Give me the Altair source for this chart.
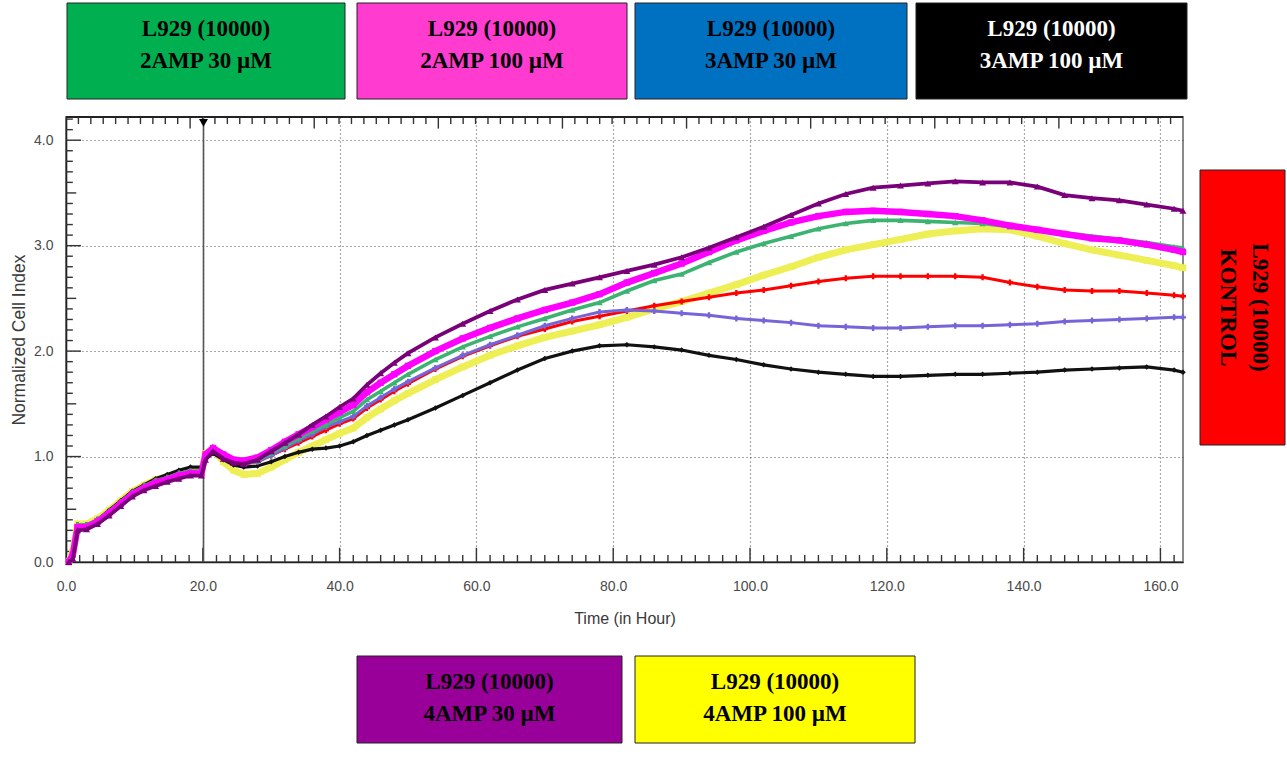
import altair as alt
import pandas as pd

# ---------------- data ----------------
HOURS = [0.4, 1.0, 1.7, 3.0, 4.6, 6.3, 8.0, 9.7, 11.4, 13.1, 14.8, 16.5, 18.2, 19.8,
         20.4, 21.5, 23.0, 24.5, 26.0,
         28, 30, 32, 34, 36, 38, 40, 42,
         44, 46, 48, 50,
         54, 58, 62, 66, 70, 74, 78, 82, 86, 90, 94, 98, 102, 106, 110, 114, 118,
         122, 126, 130, 134, 138, 142, 146, 150, 154, 158, 162, 163.3]

AMP2_30 = [0.0, 0.08, 0.35, 0.35, 0.40, 0.48, 0.57, 0.66, 0.72, 0.77, 0.80, 0.84, 0.86, 0.86,
           1.00, 1.05, 1.00, 0.96, 0.94,
           0.96, 1.03, 1.10, 1.17, 1.24, 1.30, 1.37, 1.43,
           1.54, 1.62, 1.70, 1.78,
           1.92, 2.04, 2.14, 2.23, 2.31, 2.39, 2.46, 2.57, 2.67, 2.73, 2.84, 2.94, 3.02, 3.09,
           3.16, 3.21, 3.24, 3.24, 3.23, 3.22, 3.21, 3.18, 3.15, 3.12, 3.09, 3.06, 3.03, 2.99, 2.98]

AMP2_100 = [0.0, 0.07, 0.33, 0.33, 0.38, 0.46, 0.55, 0.64, 0.70, 0.75, 0.78, 0.82, 0.84, 0.84,
            1.02, 1.08, 1.02, 0.97, 0.96,
            0.99, 1.06, 1.14, 1.21, 1.28, 1.35, 1.42, 1.49,
            1.61, 1.70, 1.78, 1.86,
            2.00, 2.12, 2.22, 2.31, 2.39, 2.46, 2.54, 2.65, 2.74, 2.83, 2.94, 3.05, 3.14, 3.22,
            3.28, 3.32, 3.33, 3.32, 3.30, 3.28, 3.24, 3.19, 3.15, 3.11, 3.07, 3.05, 3.01, 2.96, 2.94]

AMP3_30 = [0.0, 0.08, 0.35, 0.35, 0.40, 0.48, 0.57, 0.66, 0.72, 0.77, 0.80, 0.84, 0.86, 0.86,
           1.00, 1.05, 0.99, 0.95, 0.93,
           0.95, 1.01, 1.08, 1.15, 1.21, 1.28, 1.33, 1.38,
           1.48, 1.56, 1.64, 1.71,
           1.84, 1.96, 2.06, 2.15, 2.24, 2.31, 2.37, 2.39, 2.38, 2.36, 2.34, 2.31, 2.29, 2.27,
           2.24, 2.23, 2.22, 2.22, 2.23, 2.24, 2.24, 2.25, 2.26, 2.28, 2.29, 2.30, 2.31, 2.32, 2.32]

AMP3_100 = [0.0, 0.06, 0.34, 0.35, 0.40, 0.49, 0.58, 0.67, 0.73, 0.79, 0.83, 0.87, 0.90, 0.90,
            0.98, 1.03, 0.97, 0.92, 0.90,
            0.91, 0.95, 1.00, 1.04, 1.07, 1.08, 1.10, 1.14,
            1.20, 1.25, 1.30, 1.35,
            1.46, 1.58, 1.70, 1.82, 1.93, 2.00, 2.05, 2.06, 2.04, 2.01, 1.96, 1.92, 1.87, 1.83,
            1.80, 1.78, 1.76, 1.76, 1.77, 1.78, 1.78, 1.79, 1.80, 1.82, 1.83, 1.84, 1.85, 1.82, 1.80]

AMP4_30 = [0.0, 0.03, 0.30, 0.31, 0.36, 0.44, 0.53, 0.62, 0.68, 0.72, 0.76, 0.79, 0.82, 0.82,
           0.97, 1.05, 0.98, 0.94, 0.93,
           0.97, 1.05, 1.13, 1.21, 1.30, 1.38, 1.47, 1.55,
           1.68, 1.79, 1.89, 1.98,
           2.13, 2.26, 2.38, 2.49, 2.58, 2.64, 2.70, 2.76, 2.82, 2.89, 2.98, 3.08, 3.18, 3.29,
           3.40, 3.49, 3.55, 3.57, 3.59, 3.61, 3.60, 3.60, 3.56, 3.48, 3.45, 3.43, 3.39, 3.35, 3.33]

AMP4_100 = [0.0, 0.10, 0.36, 0.36, 0.41, 0.49, 0.58, 0.67, 0.73, 0.78, 0.81, 0.84, 0.86, 0.86,
            1.03, 1.07, 0.95, 0.87, 0.83,
            0.84, 0.90, 0.97, 1.04, 1.10, 1.16, 1.22, 1.27,
            1.37, 1.45, 1.53, 1.60,
            1.73, 1.85, 1.96, 2.05, 2.13, 2.19, 2.25, 2.32, 2.40, 2.47, 2.55, 2.63, 2.72, 2.80,
            2.89, 2.96, 3.01, 3.06, 3.11, 3.14, 3.16, 3.15, 3.09, 3.02, 2.96, 2.91, 2.86, 2.81, 2.79]

KONTROL = [0.0, 0.08, 0.35, 0.35, 0.40, 0.48, 0.57, 0.66, 0.72, 0.77, 0.80, 0.84, 0.86, 0.86,
           1.00, 1.05, 0.99, 0.95, 0.93,
           0.95, 1.01, 1.07, 1.13, 1.19, 1.25, 1.31, 1.36,
           1.46, 1.54, 1.62, 1.69,
           1.83, 1.95, 2.05, 2.14, 2.21, 2.28, 2.33, 2.38, 2.43, 2.47, 2.51, 2.55, 2.58, 2.62,
           2.66, 2.69, 2.71, 2.71, 2.71, 2.71, 2.70, 2.65, 2.61, 2.58, 2.57, 2.57, 2.55, 2.53, 2.52]

X_TICKS = [0, 20, 40, 60, 80, 100, 120, 140, 160]
Y_TICKS = [0, 1, 2, 3, 4]
X_MAX = 163.3
Y_MAX = 4.22
EVENT_HOUR = 20.1

# drawing order (bottom -> top), colour, line width, marker shape, marker size
SERIES = [
    ("4AMP 100", AMP4_100, "#eeee55", 7.0, "square", 44),
    ("3AMP 100", AMP3_100, "#111111", 3.2, "diamond", 30),
    ("KONTROL", KONTROL, "#ff0000", 3.0, "cross", 36),
    ("3AMP 30", AMP3_30, "#7565d8", 3.0, "cross", 36),
    ("2AMP 30", AMP2_30, "#3cb371", 3.6, "triangle-up", 40),
    ("2AMP 100", AMP2_100, "#ff00ff", 6.5, "square", 40),
    ("4AMP 30", AMP4_30, "#7a007a", 3.8, "triangle-up", 48),
]

# ---------------- layout (pixels, relative to plot origin) ----------------
W, H = 1117, 445
PAD = {"left": 66, "top": 117, "right": 104, "bottom": 201}

BOXES = [
    # (x0, x1, y0, y1, fill, text colour, label, rotated)
    (1, 279, -114, -18, "#00b050", "black", "L929 (10000)\n2AMP 30 µM", False),
    (291, 561, -114, -18, "#ff3bd0", "black", "L929 (10000)\n2AMP 100 µM", False),
    (569, 841, -114, -18, "#0070c0", "black", "L929 (10000)\n3AMP 30 µM", False),
    (850, 1121, -114, -18, "#000000", "white", "L929 (10000)\n3AMP 100 µM", False),
    (291, 556, 539, 626, "#990099", "black", "L929 (10000)\n4AMP 30 µM", False),
    (569, 849, 539, 626, "#ffff00", "black", "L929 (10000)\n4AMP 100 µM", False),
    (1134, 1219, 53, 328, "#ff0000", "black", "L929 (10000)\nKONTROL", True),
]

xscale = alt.Scale(domain=[0, X_MAX], nice=False, zero=False)
yscale = alt.Scale(domain=[0, Y_MAX], nice=False, zero=False)

X_AX = alt.Axis(values=X_TICKS, format=".1f", title="Time (in Hour)",
                grid=True, gridDash=[1, 3], gridColor="#555", gridWidth=1.2,
                ticks=False, domainColor="#222", domainWidth=1.6, labelFlush=False,
                labelPadding=17, titlePadding=17, titleFontSize=16)
Y_AX = alt.Axis(values=Y_TICKS, format=".1f", title="Normalized Cell Index",
                grid=True, gridDash=[1, 3], gridColor="#555", gridWidth=1.2,
                ticks=False, domainColor="#222", domainWidth=1.6, labelFlush=False,
                labelPadding=13, titlePadding=5, titleFontSize=17.5)


def X(field):
    return alt.X(field, scale=xscale, axis=X_AX)


def Y(field):
    return alt.Y(field, scale=yscale, axis=Y_AX)


layers = []

# inward tick marks
bt = pd.DataFrame({"x": [2 * i for i in range(1, 82)]})
bt["y"] = 0.0
bt["y2"] = [0.135 if v % 20 == 0 else 0.066 for v in bt["x"]]
lt = pd.DataFrame({"y": [round(0.1 * i, 1) for i in range(1, 43)]})
lt["x"] = 0.0
lt["x2"] = [2.2 if abs(v - round(v)) < 1e-6 else (1.5 if abs(v * 2 - round(v * 2)) < 1e-6 else 1.0)
            for v in lt["y"]]
tt = pd.DataFrame({"i": list(range(1, 90))})
tt["x"] = tt["i"] * X_MAX / 90
tt["y"] = Y_MAX
tt["y2"] = [Y_MAX - (0.11 if i % 10 == 0 else 0.066) for i in tt["i"]]

layers.append(alt.Chart(bt).mark_rule(color="#333", strokeWidth=1.4).encode(
    x=X("x:Q"), y=Y("y:Q"), y2="y2:Q"))
layers.append(alt.Chart(lt).mark_rule(color="#333", strokeWidth=1.4).encode(
    y=Y("y:Q"), x=X("x:Q"), x2="x2:Q"))
layers.append(alt.Chart(tt).mark_rule(color="#333", strokeWidth=1.4).encode(
    x=X("x:Q"), y=Y("y:Q"), y2="y2:Q"))

# top border
top_df = pd.DataFrame({"x": [0.0], "x2": [X_MAX], "y": [Y_MAX]})
layers.append(alt.Chart(top_df).mark_rule(color="#222", strokeWidth=2).encode(
    x=X("x:Q"), x2="x2:Q", y=Y("y:Q")))

# treatment event line and marker
ev_df = pd.DataFrame({"x": [EVENT_HOUR], "y": [0.0], "y2": [Y_MAX], "ym": [4.165]})
layers.append(alt.Chart(ev_df).mark_rule(color="#555", strokeWidth=1.6).encode(
    x=X("x:Q"), y=Y("y:Q"), y2="y2:Q"))
layers.append(alt.Chart(ev_df).mark_point(shape="triangle-down", filled=True, size=80,
                                          color="black", opacity=1).encode(
    x=X("x:Q"), y=Y("ym:Q")))

# series
for name, vals, color, lw, shape, size in SERIES:
    df = pd.DataFrame({"hour": HOURS, "value": vals})
    base = alt.Chart(df).encode(x=X("hour:Q"), y=Y("value:Q"))
    layers.append(base.mark_line(color=color, strokeWidth=lw))
    layers.append(base.mark_point(shape=shape, filled=True, size=size, color=color, opacity=1))

# label boxes
one = pd.DataFrame({"a": [0]})
for x0, x1, y0, y1, fill, tcol, label, rot in BOXES:
    layers.append(alt.Chart(one).mark_rect(fill=fill, stroke="#222", strokeWidth=1).encode(
        x=alt.value(x0), x2=alt.value(x1), y=alt.value(y0), y2=alt.value(y1)))
    if rot:
        tx, ty = x1 - 25, (y0 + y1) / 2
    else:
        tx, ty = (x0 + x1) / 2, y0 + 26
    layers.append(alt.Chart(one).mark_text(
        font="Liberation Serif", fontWeight="bold", fontSize=23, color=tcol,
        lineBreak="\n", lineHeight=32, align="center", baseline="middle",
        angle=90 if rot else 0).encode(
        x=alt.value(tx), y=alt.value(ty), text=alt.value(label)))

chart = alt.layer(*layers).properties(
    width=W, height=H,
    padding=PAD,
    autosize=alt.AutoSizeParams(type="none"),
    background="white",
).configure_view(
    stroke="#8a8a8a", strokeWidth=2
).configure_axis(
    labelFont="Liberation Sans", labelFontSize=14, labelColor="#4a4a4a",
    titleFont="Liberation Sans", titleColor="#3a3a3a",
    titleFontWeight="normal",
)

chart.save("out.html", embed_options={"renderer": "svg", "actions": False})
